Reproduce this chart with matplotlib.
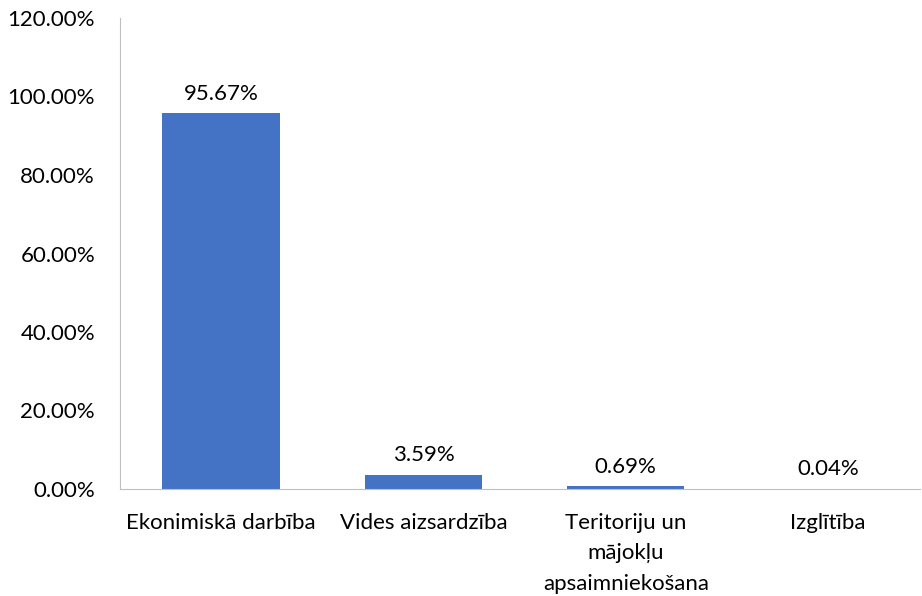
import matplotlib.pyplot as plt

categories = ['Ekonimiskā darbība', 'Vides aizsardzība',
              'Teritoriju un\nmājokļu\napsaimniekošana', 'Izglītība']
values = [95.67, 3.59, 0.69, 0.04]
yticks = [0, 20, 40, 60, 80, 100, 120]

plt.rcParams['font.family'] = ['Lato', 'DejaVu Sans']
fs = 16

fig = plt.figure(figsize=(9.22, 5.96), dpi=100)
ax = fig.add_axes([120 / 922, 107 / 596, 800 / 922, 471 / 596])

x = range(len(categories))
bars = ax.bar(x, values, width=0.58, color='#4472C4')

for xi, v in zip(x, values):
    ax.annotate(f'{v:.2f}%', (xi, v), xytext=(0, 7), textcoords='offset points',
                ha='center', va='bottom', fontsize=fs)

ax.set_xlim(-0.5, -0.5 + 800 / 202.3)
ax.set_ylim(0, 120)
ax.set_yticks(yticks)
ax.set_yticklabels([f'{t:.2f}%' for t in yticks], fontsize=fs)
ax.set_xticks(list(x))
ax.set_xticklabels(categories, fontsize=fs, va='top', linespacing=1.68)
ax.tick_params(axis='x', length=0, pad=17)
ax.tick_params(axis='y', length=0, pad=18)

for s in ['top', 'right']:
    ax.spines[s].set_visible(False)
for s in ['left', 'bottom']:
    ax.spines[s].set_color('#BFBFBF')

fig.savefig('out.png', dpi=100)
